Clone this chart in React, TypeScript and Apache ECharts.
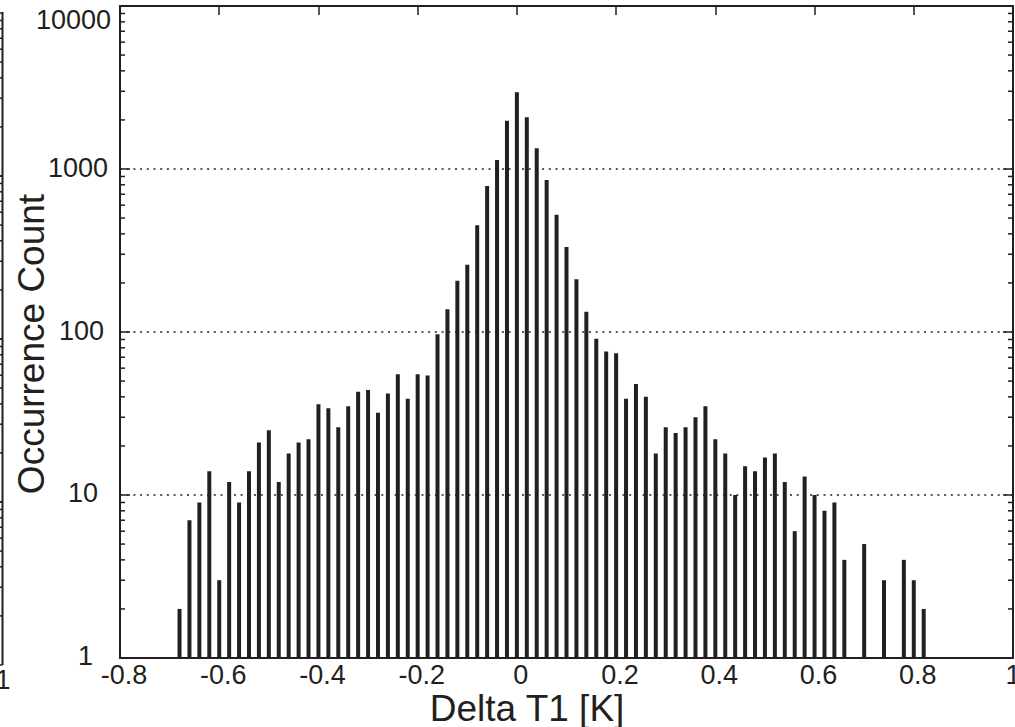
import React, { useEffect, useRef } from "react";
import * as echarts from "echarts";

// Histogram bin centres (Delta T1 [K]); empty bins (0.68, 0.72, 0.76) omitted
const binCenters = [
  -0.68, -0.66, -0.64, -0.62, -0.6, -0.58, -0.56, -0.54, -0.52, -0.5,
  -0.48, -0.46, -0.44, -0.42, -0.4, -0.38, -0.36, -0.34, -0.32, -0.3,
  -0.28, -0.26, -0.24, -0.22, -0.2, -0.18, -0.16, -0.14, -0.12, -0.1,
  -0.08, -0.06, -0.04, -0.02, 0, 0.02, 0.04, 0.06, 0.08, 0.1,
  0.12, 0.14, 0.16, 0.18, 0.2, 0.22, 0.24, 0.26, 0.28, 0.3,
  0.32, 0.34, 0.36, 0.38, 0.4, 0.42, 0.44, 0.46, 0.48, 0.5,
  0.52, 0.54, 0.56, 0.58, 0.6, 0.62, 0.64, 0.66, 0.7, 0.74,
  0.78, 0.8, 0.82,
];

// Occurrence counts per bin
const counts = [
  2, 7, 9, 14, 3, 12, 9, 14, 21, 25,
  12, 18, 21, 22, 36, 34, 26, 35, 43, 44,
  32, 42, 55, 39, 55, 54, 97, 138, 206, 259,
  451, 787, 1136, 1978, 2955, 2075, 1340, 856, 524, 332,
  211, 133, 91, 76, 74, 39, 48, 40, 18, 26,
  24, 26, 30, 35, 22, 18, 10, 15, 14, 17,
  18, 12, 6, 13, 10, 8, 9, 4, 5, 3,
  4, 3, 2,
];

// Log-axis minor tick values (2..9 per decade)
const minorTickValues = [
  2, 3, 4, 5, 6, 7, 8, 9,
  20, 30, 40, 50, 60, 70, 80, 90,
  200, 300, 400, 500, 600, 700, 800, 900,
  2000, 3000, 4000, 5000, 6000, 7000, 8000, 9000,
];

const xTitle = "Delta T1 [K]";
const yTitle = "Occurrence Count";

const INK = "#231f20";
const FONT = "Liberation Sans, Arial, Helvetica, sans-serif";

export default function App() {
  const ref = useRef<HTMLDivElement>(null);

  useEffect(() => {
    if (!ref.current) return;
    const chart = echarts.init(ref.current, undefined, { renderer: "svg" });

    const barData = binCenters.map((x, i) => [x, counts[i]]);
    const minorData = minorTickValues.map((v) => [-0.8, v]);

    // neighbouring (cut-off) figure's right axis ticks on the far left
    const leftFigTicks: any[] = [];
    for (let d = 0; d < 4; d++) {
      for (let k = 1; k <= 10; k++) {
        const y = 665 - 163 * (d + Math.log10(k));
        leftFigTicks.push({
          type: "line",
          shape: { x1: -1, y1: y, x2: 2.5, y2: y },
          style: { stroke: INK, lineWidth: 1.5 },
          silent: true,
        });
      }
    }

    const yRich: any = {
      d1: { padding: [0, 18, 4, 0] },
      d2: { padding: [0, 13, 4, 0] },
      d3: { padding: [0, 7, 3, 0] },
      d4: { padding: [0, 3, 3, 0] },
      d5: { padding: [0, 0, 0, 0] },
    };
    const xRich: any = {
      n: { padding: [0, 0, 0, 8] },
      m: { padding: [0, 0, 0, 0] },
    };
    for (const r of [yRich, xRich]) {
      for (const k of Object.keys(r)) {
        r[k].fontSize = 27;
        r[k].fontFamily = FONT;
        r[k].color = INK;
      }
    }

    const option: any = {
      animation: false,
      backgroundColor: "#ffffff",
      grid: {
        left: 120,
        right: 2,
        top: 6,
        bottom: 69,
        containLabel: false,
        outerBoundsMode: "none",
      },
      xAxis: [
        {
          type: "value",
          min: -0.8,
          max: 1,
          interval: 0.2,
          position: "bottom",
          axisLine: { show: true, onZero: false, lineStyle: { color: INK, width: 2 } },
          axisTick: { show: true, inside: true, length: 9, lineStyle: { color: INK, width: 1.5 } },
          axisLabel: {
            color: INK,
            fontSize: 27,
            fontFamily: FONT,
            margin: 3,
            showMinLabel: true,
            showMaxLabel: true,
            formatter: (v: number) => {
              const s = String(Math.round(v * 10) / 10);
              return Math.abs(v - 1) < 1e-9 ? `{m|${s}}` : `{n|${s}}`;
            },
            rich: xRich,
          },
          splitLine: { show: false },
        },
        {
          type: "value",
          min: -0.8,
          max: 1,
          interval: 0.2,
          position: "top",
          axisLine: { show: true, onZero: false, lineStyle: { color: INK, width: 2 } },
          axisTick: { show: true, inside: true, length: 9, lineStyle: { color: INK, width: 1.5 } },
          axisLabel: { show: false },
          splitLine: { show: false },
        },
      ],
      yAxis: [
        {
          type: "log",
          logBase: 10,
          min: 1,
          max: 10000,
          position: "left",
          axisLine: { show: true, onZero: false, lineStyle: { color: INK, width: 2 } },
          axisTick: { show: true, inside: true, length: 10, lineStyle: { color: INK, width: 1.5 } },
          axisLabel: {
            color: INK,
            fontSize: 27,
            fontFamily: FONT,
            margin: 9,
            formatter: (v: number) => {
              const s = String(Math.round(v));
              return `{d${s.length}|${s}}`;
            },
            rich: yRich,
            verticalAlignMaxLabel: "top",
          },
          splitLine: {
            show: true,
            lineStyle: { color: INK, width: 1.5, type: [2, 4.7] },
          },
        },
        {
          type: "log",
          logBase: 10,
          min: 1,
          max: 10000,
          position: "right",
          axisLine: { show: true, onZero: false, lineStyle: { color: INK, width: 2 } },
          axisTick: { show: true, inside: true, length: 10, lineStyle: { color: INK, width: 1.5 } },
          axisLabel: { show: false },
          splitLine: { show: false },
        },
      ],
      series: [
        {
          type: "bar",
          xAxisIndex: 0,
          yAxisIndex: 0,
          data: barData,
          barWidth: 4,
          itemStyle: { color: INK },
          z: 3,
        },
        {
          type: "custom",
          xAxisIndex: 0,
          yAxisIndex: 0,
          data: minorData,
          encode: { x: 0, y: 1 },
          clip: false,
          silent: true,
          z: 4,
          renderItem: (params: any, api: any) => {
            const v = api.value(1);
            const y = api.coord([-0.8, v])[1];
            const cs = params.coordSys;
            return {
              type: "group",
              children: [
                {
                  type: "line",
                  shape: { x1: cs.x, y1: y, x2: cs.x + 5, y2: y },
                  style: { stroke: INK, lineWidth: 1.5 },
                },
                {
                  type: "line",
                  shape: { x1: cs.x + cs.width - 5, y1: y, x2: cs.x + cs.width, y2: y },
                  style: { stroke: INK, lineWidth: 1.5 },
                },
              ],
            };
          },
        },
      ],
      graphic: [
        {
          type: "text",
          x: 527,
          y: 708,
          style: {
            text: xTitle,
            fill: INK,
            font: `37px ${FONT}`,
            textAlign: "center",
            textVerticalAlign: "middle",
          },
        },
        {
          type: "text",
          x: 31,
          y: 344,
          rotation: Math.PI / 2,
          style: {
            text: yTitle,
            fill: INK,
            font: `37px ${FONT}`,
            textAlign: "center",
            textVerticalAlign: "middle",
          },
        },
        {
          type: "line",
          shape: { x1: 2.5, y1: 12, x2: 2.5, y2: 665 },
          style: { stroke: INK, lineWidth: 2 },
        },
        ...leftFigTicks,
        {
          type: "text",
          x: 3,
          y: 680,
          style: {
            text: "1",
            fill: INK,
            font: `27px ${FONT}`,
            textAlign: "center",
            textVerticalAlign: "middle",
          },
        },
      ],
    };

    chart.setOption(option);
    return () => chart.dispose();
  }, []);

  return (
    <div
      ref={ref}
      style={{ position: "fixed", left: 0, top: 0, width: 1015, height: 727, background: "#fff" }}
    />
  );
}
